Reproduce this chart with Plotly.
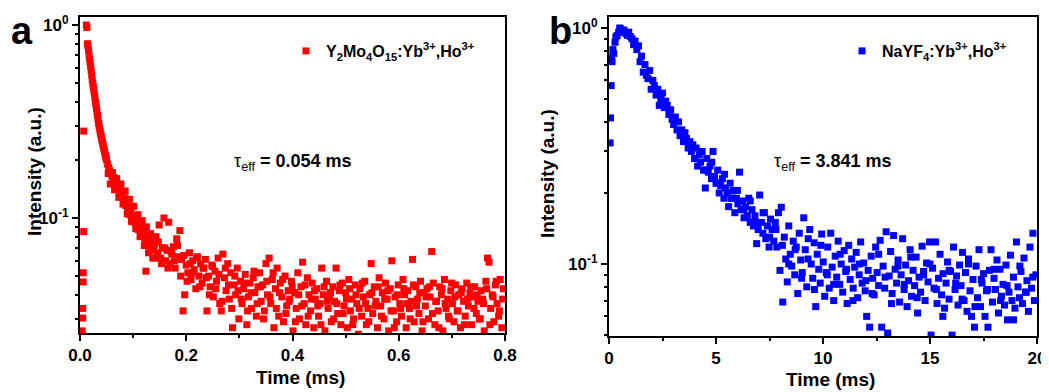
import plotly.graph_objects as go

# ---------------- Panel a : Y2Mo4O15:Yb3+,Ho3+ ----------------
time_a = [
    0.004, 0.005, 0.005, 0.006, 0.006, 0.007, 0.007,
    0.012, 0.013, 0.014, 0.015, 0.016, 0.017, 0.018, 0.019, 0.020, 0.021,
    0.022, 0.023, 0.024, 0.025, 0.026, 0.027, 0.028, 0.029, 0.030, 0.031,
    0.032, 0.033, 0.034, 0.035, 0.036, 0.037, 0.038, 0.039,
    0.040, 0.041, 0.042, 0.043, 0.044, 0.045, 0.046, 0.047, 0.048, 0.049,
    0.050, 0.052, 0.054, 0.056, 0.058, 0.060, 0.062, 0.064, 0.066, 0.068,
    0.070, 0.072, 0.074, 0.076, 0.078, 0.080, 0.082, 0.084, 0.086, 0.088,
    0.090, 0.092, 0.094, 0.096, 0.098, 0.100, 0.102, 0.104, 0.106, 0.108,
    0.110, 0.112, 0.114, 0.116, 0.118, 0.120, 0.122, 0.124, 0.126, 0.128,
    0.130, 0.132, 0.134, 0.136, 0.138,
    0.140, 0.143, 0.146, 0.149, 0.152, 0.155, 0.158, 0.161, 0.164, 0.167, 0.170, 0.173, 0.176, 0.179, 0.182, 0.185, 0.188,
    0.191, 0.194, 0.197, 0.200, 0.203, 0.206, 0.209, 0.212, 0.215, 0.218, 0.221, 0.224, 0.227, 0.230, 0.233, 0.236, 0.239,
    0.242, 0.245, 0.248, 0.251, 0.254, 0.257, 0.260, 0.263, 0.266, 0.269, 0.272, 0.275, 0.278, 0.281, 0.284, 0.287, 0.290,
    0.293, 0.296, 0.299, 0.302, 0.305, 0.308, 0.311, 0.314, 0.317, 0.320, 0.323, 0.326, 0.329, 0.332, 0.335, 0.338, 0.341,
    0.344, 0.347, 0.350, 0.353, 0.356, 0.359, 0.362, 0.365, 0.368, 0.371, 0.374, 0.377, 0.380, 0.383, 0.386, 0.389, 0.392,
    0.395, 0.398, 0.401, 0.404, 0.407, 0.410, 0.413, 0.416, 0.419, 0.422, 0.425, 0.428, 0.431, 0.434, 0.437, 0.440, 0.443,
    0.446, 0.449, 0.452, 0.455, 0.458, 0.461, 0.464, 0.467, 0.470, 0.473, 0.476, 0.479, 0.482, 0.485, 0.488, 0.491, 0.494,
    0.497, 0.500, 0.503, 0.506, 0.509, 0.512, 0.515, 0.518, 0.521, 0.524, 0.527, 0.530, 0.533, 0.536, 0.539, 0.542, 0.545,
    0.548, 0.551, 0.554, 0.557, 0.560, 0.563, 0.566, 0.569, 0.572, 0.575, 0.578, 0.581, 0.584, 0.587, 0.590, 0.593, 0.596,
    0.599, 0.602, 0.605, 0.608, 0.611, 0.614, 0.617, 0.620, 0.623, 0.626, 0.629, 0.632, 0.635, 0.638, 0.641, 0.644, 0.647,
    0.650, 0.653, 0.656, 0.659, 0.662, 0.665, 0.668, 0.671, 0.674, 0.677, 0.680, 0.683, 0.686, 0.689, 0.692, 0.695, 0.698,
    0.701, 0.704, 0.707, 0.710, 0.713, 0.716, 0.719, 0.722, 0.725, 0.728, 0.731, 0.734, 0.737, 0.740, 0.743, 0.746, 0.749,
    0.752, 0.755, 0.758, 0.761, 0.764, 0.767, 0.770, 0.773, 0.776, 0.779, 0.782, 0.785, 0.788, 0.791, 0.794, 0.797,
    # second read-out of the dense band
    0.053, 0.057, 0.061, 0.065, 0.069, 0.073, 0.077, 0.081, 0.085, 0.089, 0.093,
    0.097, 0.101, 0.105, 0.109, 0.113, 0.117, 0.121, 0.125, 0.129, 0.133, 0.137,
    0.1415, 0.1475, 0.1535, 0.1595, 0.1655, 0.1715, 0.1775, 0.1835, 0.1895, 0.1955,
    0.2015, 0.2075, 0.2135, 0.2195, 0.2255, 0.2315, 0.2375, 0.2435, 0.2495, 0.2555,
    0.2615, 0.2675, 0.2735, 0.2795, 0.2855, 0.2915, 0.2975, 0.3035, 0.3095, 0.3155,
    0.3215, 0.3275, 0.3335, 0.3395, 0.3455, 0.3515, 0.3575, 0.3635, 0.3695, 0.3755,
    0.3815, 0.3875, 0.3935, 0.3995, 0.4055, 0.4115, 0.4175, 0.4235, 0.4295, 0.4355,
    0.4415, 0.4475, 0.4535, 0.4595, 0.4655, 0.4715, 0.4775, 0.4835, 0.4895, 0.4955,
    0.5015, 0.5075, 0.5135, 0.5195, 0.5255, 0.5315, 0.5375, 0.5435, 0.5495, 0.5555,
    0.5615, 0.5675, 0.5735, 0.5795, 0.5855, 0.5915, 0.5975, 0.6035, 0.6095, 0.6155,
    0.6215, 0.6275, 0.6335, 0.6395, 0.6455, 0.6515, 0.6575, 0.6635, 0.6695, 0.6755,
    0.6815, 0.6875, 0.6935, 0.6995, 0.7055, 0.7115, 0.7175, 0.7235, 0.7295, 0.7355,
    0.7415, 0.7475, 0.7535, 0.7595, 0.7655, 0.7715, 0.7775, 0.7835, 0.7895, 0.7955,
]
intensity_a = [
    0.026, 0.0303, 0.034, 0.0466, 0.052, 0.085, 0.282,
    1.0, 0.97, 0.80, 0.78, 0.74, 0.70, 0.67, 0.64, 0.61, 0.58,
    0.55, 0.52, 0.50, 0.48, 0.46, 0.44, 0.42, 0.40, 0.385, 0.37,
    0.355, 0.34, 0.325, 0.31, 0.30, 0.29, 0.28, 0.272,
    0.265, 0.255, 0.25, 0.24, 0.235, 0.228, 0.222, 0.215, 0.21, 0.205,
    0.20, 0.19, 0.182, 0.176, 0.17, 0.165, 0.158, 0.162, 0.15, 0.155,
    0.142, 0.147, 0.135, 0.14, 0.128, 0.133, 0.122, 0.127, 0.116, 0.12,
    0.11, 0.114, 0.104, 0.108, 0.099, 0.103, 0.095, 0.1, 0.091, 0.096,
    0.087, 0.092, 0.083, 0.09, 0.08, 0.086, 0.077, 0.053, 0.082, 0.074,
    0.079, 0.07, 0.076, 0.068, 0.073,
    0.072, 0.080, 0.066, 0.092, 0.062, 0.070, 0.100, 0.060, 0.068, 0.095, 0.058, 0.065, 0.071, 0.055, 0.078, 0.063, 0.086,
    0.061, 0.033, 0.040, 0.057, 0.052, 0.066, 0.048, 0.060, 0.054, 0.043, 0.063, 0.050, 0.058, 0.046, 0.055, 0.061, 0.033,
    0.050, 0.044, 0.057, 0.039, 0.053, 0.047, 0.062, 0.036, 0.033, 0.065, 0.049, 0.042, 0.058, 0.038, 0.052, 0.027, 0.045,
    0.040, 0.055, 0.030, 0.047, 0.036, 0.043, 0.051, 0.028, 0.039, 0.046, 0.034, 0.049, 0.041, 0.031, 0.044, 0.052, 0.037,
    0.045, 0.033, 0.058, 0.040, 0.062, 0.036, 0.048, 0.027, 0.043, 0.055, 0.031, 0.046, 0.039, 0.029, 0.050, 0.035, 0.042,
    0.038, 0.047, 0.026, 0.041, 0.034, 0.052, 0.030, 0.044, 0.059, 0.036, 0.028, 0.049, 0.040, 0.033, 0.046, 0.027, 0.038,
    0.043, 0.031, 0.036, 0.055, 0.040, 0.026, 0.047, 0.034, 0.039, 0.029, 0.044, 0.037, 0.055, 0.032, 0.042, 0.028, 0.046,
    0.035, 0.041, 0.027, 0.048, 0.033, 0.038, 0.030, 0.045, 0.036, 0.025, 0.043, 0.031, 0.039, 0.047, 0.028, 0.034, 0.040,
    0.058, 0.032, 0.044, 0.037, 0.027, 0.049, 0.035, 0.041, 0.030, 0.046, 0.038, 0.026, 0.043, 0.060, 0.033, 0.039, 0.029,
    0.045, 0.036, 0.031, 0.048, 0.040, 0.027, 0.042, 0.034, 0.037, 0.061, 0.029, 0.044, 0.038, 0.032, 0.047, 0.026, 0.041,
    0.035, 0.043, 0.030, 0.039, 0.067, 0.046, 0.028, 0.037, 0.033, 0.044, 0.040, 0.026, 0.048, 0.034, 0.038, 0.030, 0.042,
    0.036, 0.029, 0.045, 0.033, 0.040, 0.027, 0.043, 0.037, 0.031, 0.046, 0.035, 0.041, 0.028, 0.039, 0.044, 0.032, 0.037,
    0.030, 0.042, 0.038, 0.026, 0.047, 0.062, 0.059, 0.034, 0.040, 0.029, 0.045, 0.036, 0.031, 0.048, 0.027, 0.043,
    # second read-out of the dense band
    0.17, 0.15, 0.172, 0.14, 0.16, 0.128, 0.15, 0.118, 0.138, 0.105, 0.125,
    0.096, 0.115, 0.088, 0.104, 0.08, 0.097, 0.072, 0.09, 0.066, 0.083, 0.062,
    0.062, 0.075, 0.058, 0.07, 0.055, 0.067, 0.06, 0.072, 0.05, 0.064,
    0.047, 0.058, 0.052, 0.062, 0.044, 0.055, 0.049, 0.04, 0.056, 0.043,
    0.051, 0.037, 0.055, 0.045, 0.034, 0.05, 0.042, 0.038, 0.046, 0.033,
    0.041, 0.053, 0.036, 0.044, 0.03, 0.047, 0.039, 0.052, 0.034, 0.041,
    0.048, 0.032, 0.037, 0.044, 0.029, 0.04, 0.035, 0.045, 0.031, 0.038,
    0.042, 0.035, 0.028, 0.044, 0.037, 0.041, 0.03, 0.036, 0.045, 0.032,
    0.038, 0.043, 0.028, 0.04, 0.034, 0.046, 0.036, 0.029, 0.041, 0.035,
    0.044, 0.031, 0.038, 0.042, 0.033, 0.027, 0.04, 0.034, 0.043, 0.036,
    0.03, 0.045, 0.035, 0.041, 0.029, 0.039, 0.044, 0.032, 0.037, 0.027,
    0.043, 0.036, 0.031, 0.046, 0.039, 0.033, 0.041, 0.028, 0.038, 0.044,
    0.034, 0.04, 0.03, 0.036, 0.043, 0.028, 0.039, 0.047, 0.033, 0.038,
]

# ---------------- Panel b : NaYF4:Yb3+,Ho3+ ----------------
time_b = [
    0.05, 0.07, 0.10, 0.12, 0.14, 0.18, 0.22, 0.28, 0.32, 0.38, 0.45, 0.50, 0.55, 0.62, 0.70, 0.78, 0.85, 0.92, 1.00, 1.07,
    1.15, 1.22, 1.30, 1.38, 1.45, 1.52, 1.60, 1.68, 1.75, 1.82, 1.90, 1.97, 2.05, 2.12, 2.20, 2.28, 2.35, 2.42, 2.50, 2.58,
    2.65, 2.72, 2.80, 2.88, 2.95, 3.02, 3.10, 3.18, 3.25, 3.32, 3.40, 3.48, 3.55, 3.62, 3.70, 3.78, 3.85, 3.92, 4.00,
    4.07, 4.14, 4.22, 4.28, 4.35, 4.42, 4.50, 4.57, 4.64, 4.72, 4.79, 4.86, 4.93, 5.00, 5.08, 5.15, 5.22, 5.30, 5.37, 5.44,
    5.52, 5.59, 5.66, 5.73, 5.80, 5.88, 5.95, 6.02, 6.10, 6.17, 6.24, 6.31, 6.38, 6.46, 6.53, 6.60, 6.68, 6.75, 6.82, 6.90,
    6.97, 7.04, 7.12, 7.19, 7.26, 7.33, 7.40, 7.48, 7.55, 7.62, 7.70, 7.77, 7.84, 7.92, 7.99,
    8.05, 8.12, 8.19, 8.26, 8.33, 8.40, 8.47, 8.54, 8.61, 8.68,
    8.75, 8.82, 8.89, 8.96, 9.03, 9.10, 9.17, 9.24, 9.31, 9.38,
    9.45, 9.52, 9.59, 9.66, 9.73, 9.80, 9.87, 9.94, 10.01, 10.08,
    10.15, 10.22, 10.29, 10.36, 10.43, 10.50, 10.57, 10.64, 10.71, 10.78,
    10.85, 10.92, 10.99, 11.06, 11.13, 11.20, 11.27, 11.34, 11.41, 11.48,
    11.55, 11.62, 11.69, 11.76, 11.83, 11.90, 11.97, 12.04, 12.11, 12.18,
    12.25, 12.32, 12.39, 12.46, 12.53, 12.60, 12.67, 12.74, 12.81, 12.88,
    12.95, 13.02, 13.09, 13.16, 13.23, 13.30, 13.37, 13.44, 13.51, 13.58,
    13.65, 13.72, 13.79, 13.86, 13.93, 14.00, 14.07, 14.14, 14.21, 14.28,
    14.35, 14.42, 14.49, 14.56, 14.63, 14.70, 14.77, 14.84, 14.91, 14.98,
    15.05, 15.12, 15.19, 15.26, 15.33, 15.40, 15.47, 15.54, 15.61, 15.68,
    15.75, 15.82, 15.89, 15.96, 16.03, 16.10, 16.17, 16.24, 16.31, 16.38,
    16.45, 16.52, 16.59, 16.66, 16.73, 16.80, 16.87, 16.94, 17.01, 17.08,
    17.15, 17.22, 17.29, 17.36, 17.43, 17.50, 17.57, 17.64, 17.71, 17.78,
    17.85, 17.92, 17.99, 18.06, 18.13, 18.20, 18.27, 18.34, 18.41, 18.48,
    18.55, 18.62, 18.69, 18.76, 18.83, 18.90, 18.97, 19.04, 19.11, 19.18,
    19.25, 19.32, 19.39, 19.46, 19.53, 19.60, 19.67, 19.74, 19.81, 19.88,
    19.95,
    # second read-out of the scattered tail
    4.5, 4.8, 5.1, 5.4, 5.7, 6.0, 6.3, 6.6, 6.9, 7.2, 7.5, 7.8, 8.1,
    8.4, 8.7, 9.0, 9.3, 9.6, 9.9, 10.2, 10.5, 10.8, 11.1, 11.4, 11.7, 12.0,
    12.3, 12.6, 12.9, 13.2, 13.5, 13.8, 14.1, 14.4, 14.7, 15.0, 15.3, 15.6, 15.9,
    16.2, 16.5, 16.8, 17.1, 17.4, 17.7, 18.0, 18.3, 18.6, 18.9, 19.2, 19.5, 19.8,
]
intensity_b = [
    0.326, 0.416, 0.57, 0.754, 0.72, 0.81, 0.78, 0.87, 0.915, 0.93, 0.96, 1.0, 0.99, 0.97, 0.98, 0.95, 0.93, 0.96, 0.92, 0.90,
    0.85, 0.88, 0.81, 0.84, 0.72, 0.76, 0.65, 0.70, 0.63, 0.61, 0.66, 0.55, 0.60, 0.57, 0.52, 0.55, 0.47, 0.50, 0.53, 0.46,
    0.49, 0.47, 0.43, 0.45, 0.41, 0.39, 0.42, 0.37, 0.40, 0.35, 0.37, 0.33, 0.36, 0.34, 0.31, 0.33, 0.30, 0.32, 0.28,
    0.31, 0.26, 0.29, 0.27, 0.30, 0.25, 0.21, 0.28, 0.245, 0.26, 0.23, 0.30, 0.235, 0.22, 0.25, 0.20, 0.215, 0.23, 0.19, 0.21,
    0.20, 0.175, 0.22, 0.19, 0.205, 0.165, 0.19, 0.18, 0.245, 0.17, 0.185, 0.157, 0.175, 0.16, 0.19, 0.15, 0.17, 0.145, 0.16, 0.122,
    0.14, 0.196, 0.15, 0.135, 0.165, 0.128, 0.145, 0.118, 0.155, 0.14, 0.125, 0.15, 0.118, 0.165, 0.094,
    0.174, 0.069, 0.13, 0.105, 0.084, 0.145, 0.11, 0.098, 0.125, 0.09,
    0.118, 0.075, 0.135, 0.104, 0.092, 0.157, 0.115, 0.08, 0.128, 0.14,
    0.1, 0.087, 0.123, 0.066, 0.11, 0.095, 0.083, 0.134, 0.102, 0.073,
    0.092, 0.118, 0.079, 0.135, 0.097, 0.07, 0.108, 0.088, 0.125, 0.082,
    0.1, 0.076, 0.114, 0.093, 0.068, 0.12, 0.086, 0.105, 0.079, 0.097,
    0.112, 0.072, 0.09, 0.124, 0.083, 0.101, 0.077, 0.06, 0.094, 0.054,
    0.108, 0.087, 0.074, 0.118, 0.092, 0.081, 0.126, 0.054, 0.098, 0.079,
    0.137, 0.051, 0.089, 0.113, 0.075, 0.132, 0.095, 0.083, 0.104, 0.069,
    0.09, 0.128, 0.078, 0.099, 0.066, 0.085, 0.115, 0.073, 0.094, 0.081,
    0.107, 0.062, 0.088, 0.076, 0.119, 0.093, 0.07, 0.101, 0.084, 0.124,
    0.05, 0.096, 0.079, 0.124, 0.068, 0.087, 0.11, 0.074, 0.091, 0.065,
    0.083, 0.102, 0.071, 0.093, 0.05, 0.118, 0.078, 0.089, 0.067, 0.099,
    0.081, 0.112, 0.07, 0.092, 0.063, 0.105, 0.077, 0.06, 0.086, 0.054,
    0.098, 0.072, 0.115, 0.066, 0.083, 0.091, 0.06, 0.077, 0.054, 0.094,
    0.115, 0.069, 0.087, 0.078, 0.104, 0.062, 0.095, 0.073, 0.082, 0.067,
    0.099, 0.058, 0.076, 0.109, 0.07, 0.088, 0.065, 0.124, 0.08, 0.072,
    0.093, 0.068, 0.106, 0.076, 0.085, 0.063, 0.118, 0.079, 0.135, 0.07,
    0.09,
    # second read-out of the scattered tail
    0.25, 0.27, 0.22, 0.24, 0.19, 0.205, 0.17, 0.185, 0.15, 0.165, 0.13, 0.14, 0.12,
    0.1, 0.115, 0.087, 0.105, 0.078, 0.12, 0.09, 0.082, 0.11, 0.095, 0.07, 0.1, 0.085,
    0.075, 0.11, 0.088, 0.068, 0.098, 0.082, 0.107, 0.072, 0.09, 0.1, 0.078, 0.06, 0.094,
    0.083, 0.071, 0.1, 0.066, 0.086, 0.078, 0.095, 0.07, 0.081, 0.058, 0.098, 0.076, 0.088,
]

x_ticks_a = [0.0, 0.2, 0.4, 0.6, 0.8]
x_ticklabels_a = ["0.0", "0.2", "0.4", "0.6", "0.8"]
x_ticks_b = [0, 5, 10, 15, 20]
x_ticklabels_b = ["0", "5", "10", "15", "20"]
y_ticks = [0.1, 1.0]
y_ticklabels = ["<b>10<sup>-1</sup></b>", "<b>10<sup>0</sup></b>"]
y_minor = [0.02, 0.03, 0.04, 0.05, 0.06, 0.07, 0.08, 0.09, 0.2, 0.3, 0.4, 0.5, 0.6, 0.7, 0.8, 0.9]

FONT = "Liberation Sans, Arial, sans-serif"
# the page body has an 8 px default margin: the figure is shrunk so it fits the window
OFF = 8
W, H = 1049 - OFF, 392 - OFF


def px(x):
    return (x - OFF) / W


def py(y):
    return 1 - (y - OFF) / H


fig = go.Figure()
fig.add_trace(go.Scatter(
    x=time_a, y=intensity_a, mode="markers", xaxis="x", yaxis="y",
    marker=dict(symbol="square", size=7, color="#FF0000", line=dict(width=0)),
    name="Y<sub>2</sub>Mo<sub>4</sub>O<sub>15</sub>:Yb<sup>3+</sup>,Ho<sup>3+</sup>",
    legend="legend", showlegend=True,
))
fig.add_trace(go.Scatter(
    x=time_b, y=intensity_b, mode="markers", xaxis="x2", yaxis="y2",
    marker=dict(symbol="square", size=7, color="#0000FF", line=dict(width=0)),
    name="NaYF<sub>4</sub>:Yb<sup>3+</sup>,Ho<sup>3+</sup>",
    legend="legend2", showlegend=True,
))

axis_common = dict(
    showline=True, linewidth=2, linecolor="black", mirror=True,
    ticks="outside", ticklen=6, tickwidth=2, tickcolor="black",
    showgrid=False, zeroline=False, automargin=False,
    tickfont=dict(family=FONT, size=17, color="black", weight="bold"),
)
minor_common = dict(tickmode="array", ticks="outside", ticklen=3, tickwidth=2, tickcolor="black", showgrid=False)

legend_font = dict(family=FONT, size=16, color="black", weight="bold")

fig.update_layout(
    template="none",
    width=W, height=H,
    margin=dict(l=0, r=0, t=0, b=0, pad=0),
    paper_bgcolor="white", plot_bgcolor="white",
    font=dict(family=FONT, color="black"),
    showlegend=True,
    xaxis=dict(domain=[px(80), px(505)], range=[0, 0.8], anchor="y",
               tickmode="array", tickvals=x_ticks_a, ticktext=x_ticklabels_a,
               minor=dict(tickvals=[0.1, 0.3, 0.5, 0.7], **minor_common),
               **axis_common),
    yaxis=dict(domain=[py(333), py(17)], type="log", range=[-1.596, 0.0415], anchor="x",
               tickmode="array", tickvals=y_ticks, ticktext=y_ticklabels,
               minor=dict(tickvals=y_minor, **minor_common),
               **axis_common),
    xaxis2=dict(domain=[px(609), px(1037)], range=[0, 20], anchor="y2",
                tickmode="array", tickvals=x_ticks_b, ticktext=x_ticklabels_b,
                minor=dict(tickvals=[2.5, 7.5, 12.5, 17.5], **minor_common),
                **axis_common),
    yaxis2=dict(domain=[py(336), py(17)], type="log", range=[-1.305, 0.0466], anchor="x2",
                tickmode="array", tickvals=y_ticks, ticktext=y_ticklabels,
                minor=dict(tickvals=y_minor, **minor_common),
                **axis_common),
    legend=dict(x=px(286), y=py(34), xanchor="left", yanchor="top",
                bgcolor="rgba(0,0,0,0)", borderwidth=0, font=legend_font),
    legend2=dict(x=px(842), y=py(34), xanchor="left", yanchor="top",
                 bgcolor="rgba(0,0,0,0)", borderwidth=0, font=legend_font),
)

ann_font = dict(family=FONT, size=18, color="black")
title_font = dict(family=FONT, size=19, color="black")
annotations = [
    dict(text="<b>a</b>", x=px(22), y=py(31), font=dict(family=FONT, size=38, color="black")),
    dict(text="<b>b</b>", x=px(560), y=py(31), font=dict(family=FONT, size=38, color="black")),
    dict(text="τ<sub>eff</sub><b> = 0.054 ms</b>", x=px(232), y=py(163), xanchor="left", font=ann_font),
    dict(text="τ<sub>eff</sub><b> = 3.841 ms</b>", x=px(772), y=py(163), xanchor="left", font=ann_font),
    dict(text="<b>Intensity (a.u.)</b>", x=px(35), y=py(172), textangle=-90, font=title_font),
    dict(text="<b>Intensity (a.u.)</b>", x=px(547), y=py(174), textangle=-90, font=title_font),
    dict(text="<b>Time (ms)</b>", x=px(300), y=py(377), font=title_font),
    dict(text="<b>Time (ms)</b>", x=px(830), y=py(379), font=title_font),
]
for a in annotations:
    a.setdefault("xanchor", "center")
    a.update(xref="paper", yref="paper", yanchor="middle", showarrow=False)
fig.update_layout(annotations=annotations)

fig.write_html("out.html")
